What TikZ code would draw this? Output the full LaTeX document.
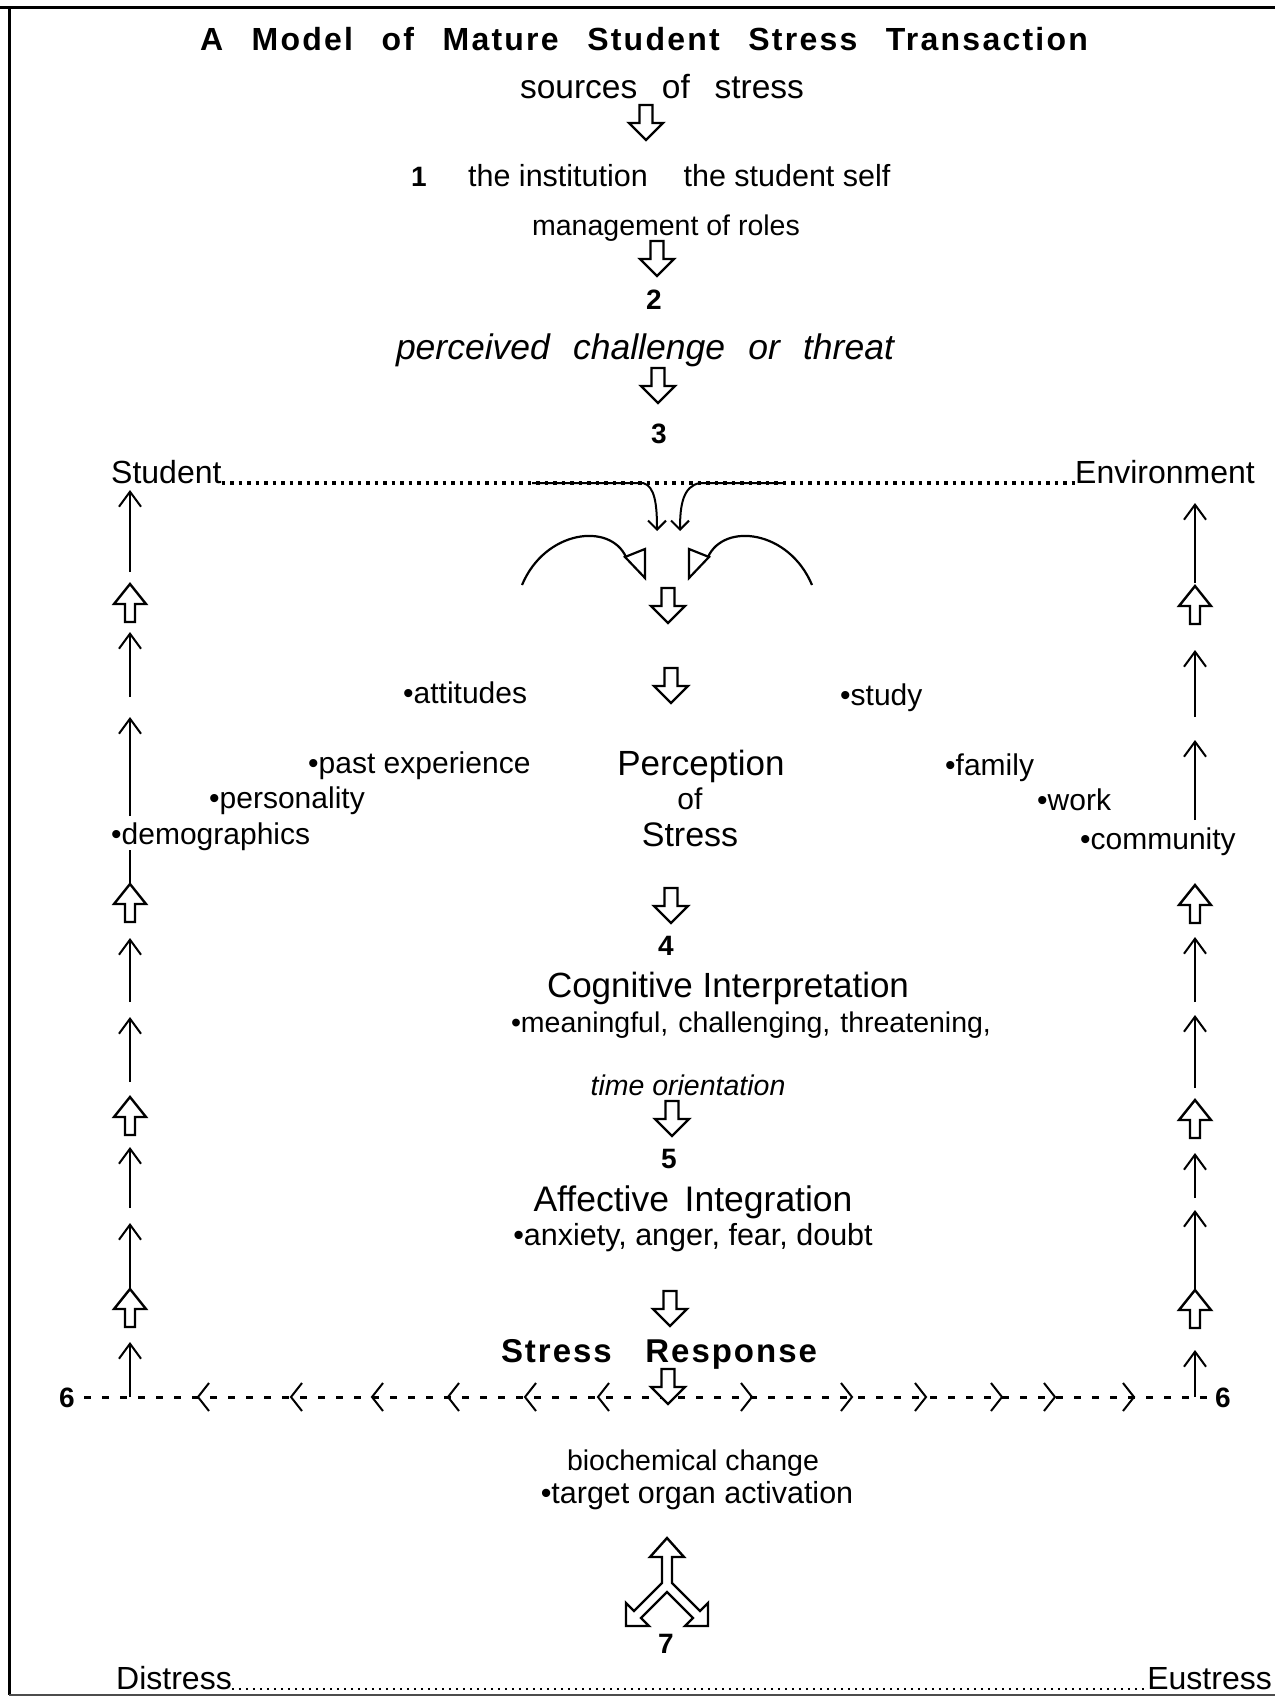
\documentclass[tikz,border=0pt]{standalone}
\usepackage{fontspec}
\setmainfont{Liberation Sans}
\usetikzlibrary{arrows.meta}
\newcommand\fsz[1]{\fontsize{#1}{#1}\selectfont}
\newcommand\spread[2]{\makebox[#1pt][s]{#2}}

\begin{document}
\begin{tikzpicture}[x=1pt,y=-1pt,
  lbl/.style={inner sep=0pt, anchor=base},
  num/.style={lbl, font=\bfseries\fsz{28}},
  side/.style={lbl, anchor=base west, font=\fsz{30}},
  blkout/.style={draw, fill=white, line width=2.4pt, line join=miter},
  thinarr/.style={line width=2pt, -{Straight Barb[length=15pt,width=22pt]}},
  curvarr/.style={line width=2pt, -{Straight Barb[length=9pt,width=18pt]}},
  chev/.style={line width=2pt},
  dashline/.style={line width=3pt, dash pattern=on 7pt off 11pt},
  dotline/.style={line width=3.5pt, dash pattern=on 3.5pt off 5pt},
  finedots/.style={line width=2.5pt, dash pattern=on 2.5pt off 4.5pt},
  pics/downblk/.style={code={\draw[blkout] (-6.5,0) -- (6.5,0) -- (6.5,18) -- (17,18) -- (0,35) -- (-17,18) -- (-6.5,18) -- cycle;}},
  pics/upblk/.style={code={\draw[blkout] (-5,0) -- (5,0) -- (5,-18) -- (16,-18) -- (0,-38) -- (-16,-18) -- (-5,-18) -- cycle;}},
]
\useasboundingbox (0,0) rectangle (1275,1697);

% frame
\draw[line width=3pt] (0,7) -- (1275,7);
\draw[line width=3pt] (9,7) -- (9,1695);
\draw[line width=2pt, black!70] (9,1695) -- (1275,1695);

% heading and upper chain
\node[lbl, font=\bfseries\fsz{32}\addfontfeature{LetterSpace=7}] (title) at (644,50) {\spread{888}{A Model of Mature Student Stress Transaction}};
\node[lbl, font=\fsz{33.5}] (src) at (662,98) {\spread{284}{sources of stress}};
\pic at (646,105) {downblk};
\node[num] (n1) at (419,186) {1};
\node[lbl, font=\fsz{30.5}] (inst) at (558,186) {the institution};
\node[lbl, font=\fsz{30.5}] (self) at (787,186) {the student self};
\node[lbl, font=\fsz{28.5}] (roles) at (666,235) {management of roles};
\pic at (657,241) {downblk};
\node[num] (n2) at (654,309) {2};
\node[lbl, font=\itshape\fsz{35.5}] (threat) at (645,359) {\spread{498}{perceived challenge or threat}};
\pic at (658,368) {downblk};
\node[num] (n3) at (659,443) {3};

% student / environment axis
\node[lbl, anchor=base west, font=\fsz{32}] (stu) at (111,483) {Student};
\node[lbl, anchor=base east, font=\fsz{32}] (env) at (1255,483) {Environment};
\draw[dotline] (stu.base east) -- (env.base west);
\draw[curvarr] (532,483) -- (643,483) .. controls (655,486) and (657,505) .. (657,531);
\draw[curvarr] (783,483) -- (700,483) .. controls (683,486) and (680,505) .. (680,531);

% converging arcs
\draw[line width=2.2pt] (522,585) .. controls (545,530) and (610,522) .. (626,557);
\draw[line width=2.2pt, line join=miter] (625,557) -- (645,549) -- (645,578) -- cycle;
\draw[line width=2.2pt] (812,585) .. controls (789,530) and (724,522) .. (708,557);
\draw[line width=2.2pt, line join=miter] (709,557) -- (689,549) -- (689,578) -- cycle;
\pic at (668,588) {downblk};
\pic at (671,668) {downblk};

% perception of stress and its factors
\node[side] (att) at (403,703) {•attitudes};
\node[side] (study) at (840,705) {•study};
\node[side] (past) at (308,773) {•past experience};
\node[lbl, font=\fsz{35}] (perc) at (701,775) {Perception};
\node[side] (fam) at (945,775) {•family};
\node[side] (pers) at (209,808) {•personality};
\node[lbl, font=\fsz{30}] (of) at (690,809) {of};
\node[side] (work) at (1037,810) {•work};
\node[side] (demo) at (111,844) {•demographics};
\node[lbl, font=\fsz{34}] (strs) at (690,846) {Stress};
\node[side] (comm) at (1080,849) {•community};

% lower chain
\pic at (671,888) {downblk};
\node[num] (n4) at (666,955) {4};
\node[lbl, font=\fsz{35}] (cog) at (728,997) {\spread{362}{Cognitive Interpretation}};
\node[lbl, font=\fsz{28.5}] (mean) at (751,1032) {\spread{480}{•meaningful, challenging, threatening,}};
\node[lbl, font=\itshape\fsz{28.5}] (time) at (688,1095) {time orientation};
\pic at (672,1101) {downblk};
\node[num] (n5) at (669,1168) {5};
\node[lbl, font=\fsz{35.5}] (aff) at (693,1211) {\spread{319}{Affective Integration}};
\node[lbl, font=\fsz{30.5}] (anx) at (693,1245) {•anxiety, anger, fear, doubt};
\pic at (670,1291) {downblk};
\node[lbl, font=\bfseries\fsz{33}\addfontfeature{LetterSpace=6}] (resp) at (659,1362) {\spread{316}{Stress Response}};

% feedback line 6
\node[num] (sixL) at (67,1407) {6};
\node[num] (sixR) at (1223,1407) {6};
\coordinate (dashL) at (84,1397);
\coordinate (dashR) at (1212,1397);
\draw[dashline] (dashL) -- (dashR);
\foreach \t in {198,291,372,448,525,598}
  \draw[chev] (\t+11,1383) -- (\t,1397) -- (\t+11,1411);
\foreach \t in {752,852,926,1002,1055,1134}
  \draw[chev] (\t-11,1383) -- (\t,1397) -- (\t-11,1411);
\pic at (668,1369) {downblk};

% left column (student side)
\draw[thinarr] (130,572) -- (130,490);
\pic at (130,622) {upblk};
\draw[thinarr] (130,697) -- (130,632);
\draw[thinarr] (130,816) -- (130,717);
\draw[line width=2pt] (130,850) -- (130,884);
\pic at (130,922) {upblk};
\draw[thinarr] (130,1002) -- (130,938);
\draw[thinarr] (130,1082) -- (130,1017);
\pic at (130,1135) {upblk};
\draw[thinarr] (130,1208) -- (130,1147);
\draw[thinarr] (130,1289) -- (130,1223);
\pic at (130,1327) {upblk};
\draw[thinarr] (130,1397) -- (130,1342);

% right column (environment side)
\draw[thinarr] (1195,583) -- (1195,503);
\pic at (1195,624) {upblk};
\draw[thinarr] (1195,717) -- (1195,650);
\draw[thinarr] (1195,820) -- (1195,740);
\pic at (1195,923) {upblk};
\draw[thinarr] (1195,1002) -- (1195,937);
\draw[thinarr] (1195,1088) -- (1195,1015);
\pic at (1195,1138) {upblk};
\draw[thinarr] (1195,1198) -- (1195,1153);
\draw[thinarr] (1195,1295) -- (1195,1210);
\pic at (1195,1328) {upblk};
\draw[thinarr] (1195,1397) -- (1195,1350);

% physiological outcome
\node[lbl, font=\fsz{28.5}] (bio) at (693,1470) {biochemical change};
\node[lbl, font=\fsz{30.5}] (organ) at (697,1503) {•target organ activation};
\draw[blkout] (667,1582) ++(0,-44) -- ++(17,19) -- ++(-12,0)
  -- (672,1583) -- (700,1611) -- (708,1603) -- (708,1626) -- (685,1626)
  -- (693,1618) -- (667,1592) -- (641,1618) -- (649,1626) -- (626,1626)
  -- (626,1603) -- (634,1611) -- (662,1583) -- (662,1557) -- (650,1557) -- cycle;
\node[num] (n7) at (666,1653) {7};

% distress / eustress axis
\node[lbl, anchor=base west, font=\fsz{32}] (dis) at (116,1689) {Distress};
\node[lbl, anchor=base east, font=\fsz{32}] (eus) at (1272,1689) {Eustress};
\draw[finedots] (dis.base east) -- (eus.base west);
\end{tikzpicture}
\end{document}
